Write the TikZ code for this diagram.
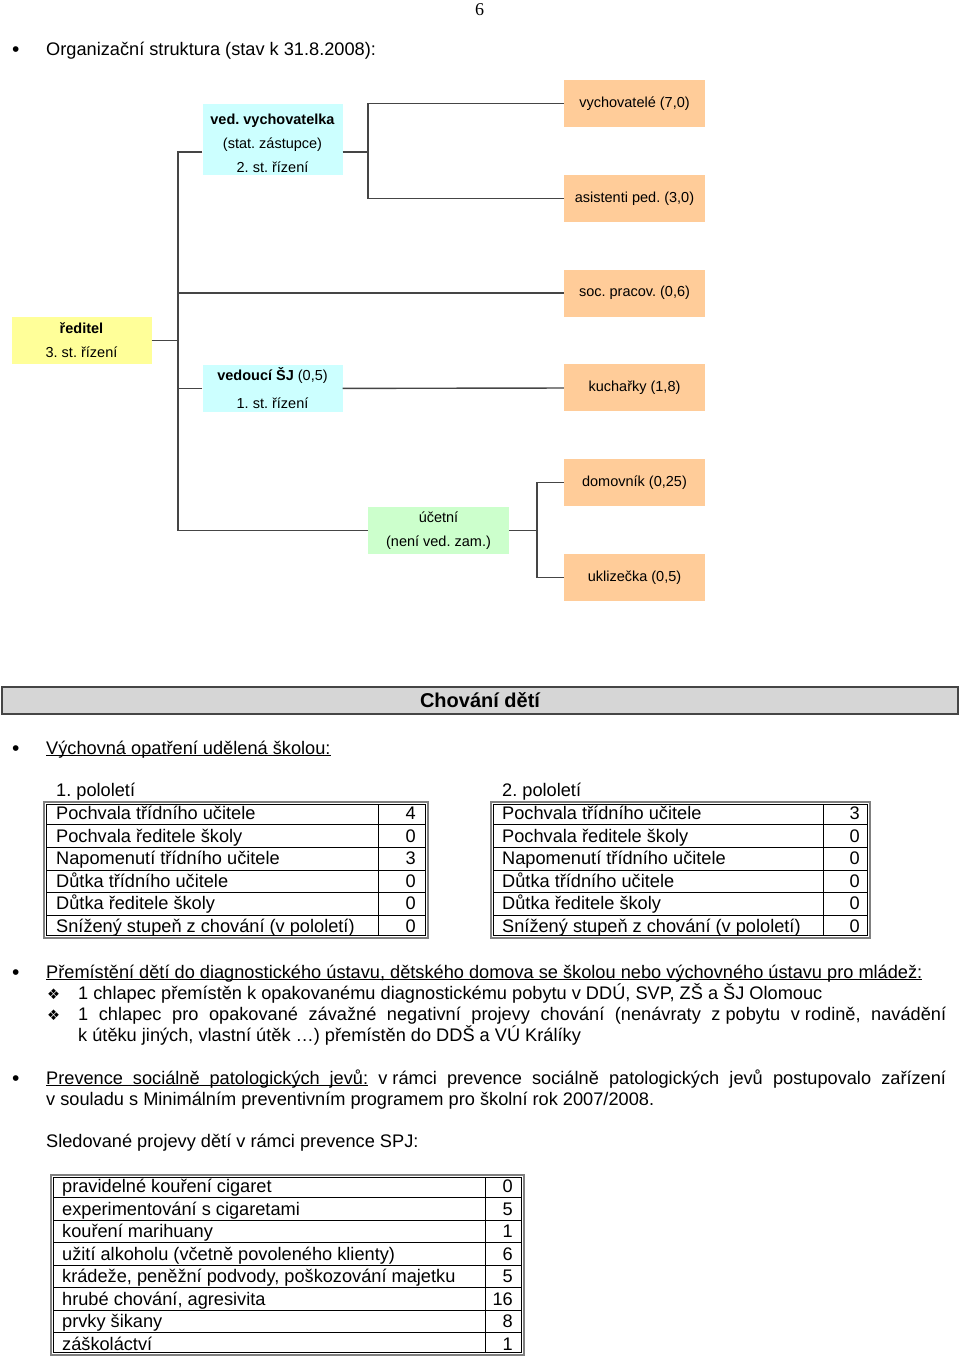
\documentclass[tikz,border=0pt]{standalone}
\usepackage{fontspec}
\setmainfont{Liberation Sans}
\newfontfamily\pagefont{Liberation Serif}
\newfontfamily\dingfont{DejaVu Sans}
\usetikzlibrary{positioning}

\definecolor{peach}{HTML}{FFCC99}
\definecolor{lemon}{HTML}{FFFF99}
\definecolor{aqua}{HTML}{CCFFFF}
\definecolor{mint}{HTML}{CCFFCC}
\definecolor{barfill}{HTML}{D6D6D6}
\definecolor{wire}{HTML}{454545}

\newcommand\undl[1]{\setbox0=\hbox{#1}\rlap{\rule[-2.2pt]{\wd0}{0.9pt}}\box0\relax}

\tikzset{
  orgbox/.style={minimum width=140pt, minimum height=47pt, inner sep=0pt, align=center, font=\fontsize{14.5}{24}\selectfont},
  staff/.style={orgbox, fill=peach, minimum width=141pt},
  boss/.style={orgbox, fill=lemon},
  lead/.style={orgbox, fill=aqua},
  clerk/.style={orgbox, fill=mint, minimum width=141pt},
  link/.style={draw=wire, line width=1.4pt},
  txt/.style={anchor=base west, inner sep=0pt, font=\fontsize{18.2}{22}\selectfont},
  num/.style={anchor=base east, inner sep=0pt, font=\fontsize{18.2}{22}\selectfont},
  blt/.style={anchor=base west, inner sep=0pt, font=\fontsize{21}{22}\selectfont},
  ding/.style={anchor=base west, inner sep=0pt, font=\dingfont\fontsize{14.5}{16}\selectfont},
  frameout/.style={draw=gray, line width=2pt},
  framein/.style={draw=black, line width=0.9pt},
}

\begin{document}
\frenchspacing
\begin{tikzpicture}[x=1pt, y=-1pt, node distance=94.8pt]

  \useasboundingbox (0,0) rectangle (960,1357);

  \node (pg) [anchor=base, inner sep=0pt, font=\pagefont\fontsize{18}{20}\selectfont] at (479.5,15) {6};

  \node (b1) [blt] at (12,56) {\textbullet};
  \node (org) [txt] at (46,55) {Organizační struktura (stav k 31.8.2008):};

  % organizacni struktura
  \node (reditel) [boss] at (81.5,340.5) {\textbf{ředitel}\\3. st. řízení};
  \node (vedvych) [lead, minimum height=71pt] at (272.5,139.5) {\rule{0pt}{18pt}\textbf{ved. vychovatelka}\\(stat. zástupce)\\2. st. řízení};
  \node (vedouci) [lead] at (272.5,388.5) {\textbf{vedoucí ŠJ} (0,5)\\[4pt]1. st. řízení};
  \node (ucetni) [clerk] at (438.5,530.5) {účetní\\(není ved. zam.)};

  \node (vychov) [staff] at (634.5,103.5) {vychovatelé (7,0)};
  \node (asist) [staff, below of=vychov] {asistenti ped. (3,0)};
  \node (socprac) [staff, below of=asist] {soc. pracov. (0,6)};
  \node (kuchar) [staff, below of=socprac] {kuchařky (1,8)};
  \node (domov) [staff, below of=kuchar] {domovník (0,25)};
  \node (uklid) [staff, below of=domov] {uklizečka (0,5)};

  \coordinate (trunk) at (178,530.5);
  \coordinate (forkA) at (368,0);
  \coordinate (forkB) at (537,0);

  \draw[link] ([yshift=-12.5pt]vedvych.west) -| (trunk) -- (ucetni);
  \draw[link] (reditel) -- (reditel -| trunk);
  \draw[link] (socprac) -- (socprac -| trunk);
  \draw[link] (vedouci) -- (vedouci -| trunk);
  \draw[link] (vedouci) -- (kuchar);
  \draw[link] ([yshift=-12.5pt]vedvych.east) -- ([yshift=-12.5pt]vedvych.east -| forkA);
  \draw[link] (vychov) -| (forkA |- asist) -- (asist);
  \draw[link] (ucetni) -- (ucetni -| forkB);
  \draw[link] (domov) -| (forkB |- uklid) -- (uklid);

  % chovani deti
  \node (bar) [draw=wire, line width=1.2pt, fill=barfill, minimum width=956pt, minimum height=27pt, inner sep=0pt, font=\fontsize{20}{24}\selectfont\bfseries] at (480,700.5) {Chování dětí};

  \node (b2) [blt] at (12,755) {\textbullet};
  \node (opatreni) [txt] at (46,754) {\undl{Výchovná opatření udělená školou:}};

  \node (pol1) [txt] at (56,796) {1. pololetí};
  \node (pol2) [txt] at (502,796) {2. pololetí};

  % 1. pololeti
  \draw[frameout] (44,802) rectangle (428,938);
  \draw[framein] (46.5,804.5) rectangle (425.5,935.5);
  \draw[framein] (378,804.5) -- (378,935.5);
  \foreach \y in {824.7,847.3,870,892.7,915.3}
    \draw[framein] (46.5,\y) -- (425.5,\y);
  \node (ra1) [txt] at (56,819) {Pochvala třídního učitele};
  \node (ra2) [txt] at (56,842) {Pochvala ředitele školy};
  \node (ra3) [txt] at (56,864) {Napomenutí třídního učitele};
  \node (ra4) [txt] at (56,887) {Důtka třídního učitele};
  \node (ra5) [txt] at (56,909) {Důtka ředitele školy};
  \node (ra6) [txt] at (56,932) {Snížený stupeň z chování (v pololetí)};
  \node (va1) [num] at (416,819) {4};
  \node (va2) [num] at (416,842) {0};
  \node (va3) [num] at (416,864) {3};
  \node (va4) [num] at (416,887) {0};
  \node (va5) [num] at (416,909) {0};
  \node (va6) [num] at (416,932) {0};

  % 2. pololeti
  \draw[frameout] (491,802) rectangle (870,938);
  \draw[framein] (493.5,804.5) rectangle (867.5,935.5);
  \draw[framein] (823,804.5) -- (823,935.5);
  \foreach \y in {824.7,847.3,870,892.7,915.3}
    \draw[framein] (493.5,\y) -- (867.5,\y);
  \node (rb1) [txt] at (502,819) {Pochvala třídního učitele};
  \node (rb2) [txt] at (502,842) {Pochvala ředitele školy};
  \node (rb3) [txt] at (502,864) {Napomenutí třídního učitele};
  \node (rb4) [txt] at (502,887) {Důtka třídního učitele};
  \node (rb5) [txt] at (502,909) {Důtka ředitele školy};
  \node (rb6) [txt] at (502,932) {Snížený stupeň z chování (v pololetí)};
  \node (vb1) [num] at (860,819) {3};
  \node (vb2) [num] at (860,842) {0};
  \node (vb3) [num] at (860,864) {0};
  \node (vb4) [num] at (860,887) {0};
  \node (vb5) [num] at (860,909) {0};
  \node (vb6) [num] at (860,932) {0};

  % premisteni
  \node (b3) [blt] at (12,979) {\textbullet};
  \node (presun) [txt] at (46,978) {\undl{Přemístění dětí do diagnostického ústavu, dětského domova se školou nebo výchovného ústavu pro mládež:}};
  \node (d1) [ding] at (47,999) {❖};
  \node (p1) [txt] at (78,999) {1 chlapec přemístěn k opakovanému diagnostickému pobytu v DDÚ, SVP, ZŠ a ŠJ Olomouc};
  \node (d2) [ding] at (47,1020) {❖};
  \node (p2) [txt] at (78,1020) {\makebox[868pt][s]{1 chlapec pro opakované závažné negativní projevy chování (nenávraty \mbox{z~pobytu} \mbox{v~rodině,} navádění}};
  \node (p3) [txt] at (78,1041) {k útěku jiných, vlastní útěk …) přemístěn do DDŠ a VÚ Králíky};

  % prevence
  \node (b4) [blt] at (12,1085) {\textbullet};
  \node (prev) [txt] at (46,1084) {\makebox[900pt][s]{\undl{\makebox[322pt][s]{Prevence sociálně patologických jevů:}} \mbox{v~rámci} prevence sociálně patologických jevů postupovalo zařízení}};
  \node (prev2) [txt] at (46,1105) {v souladu s Minimálním preventivním programem pro školní rok 2007/2008.};
  \node (sled) [txt] at (46,1147) {Sledované projevy dětí v rámci prevence SPJ:};

  % sledovane projevy
  \draw[frameout] (51,1175) rectangle (524,1355);
  \draw[framein] (53.5,1177.5) rectangle (521.5,1352.5);
  \draw[framein] (485,1177.5) -- (485,1352.5);
  \foreach \y in {1197.5,1220,1242.5,1265,1287.5,1310,1332.5}
    \draw[framein] (53.5,\y) -- (521.5,\y);
  \node (rc1) [txt] at (62,1192) {pravidelné kouření cigaret};
  \node (rc2) [txt] at (62,1215) {experimentování s cigaretami};
  \node (rc3) [txt] at (62,1237) {kouření marihuany};
  \node (rc4) [txt] at (62,1260) {užití alkoholu (včetně povoleného klienty)};
  \node (rc5) [txt] at (62,1282) {krádeže, peněžní podvody, poškozování majetku};
  \node (rc6) [txt] at (62,1305) {hrubé chování, agresivita};
  \node (rc7) [txt] at (62,1327) {prvky šikany};
  \node (rc8) [txt] at (62,1350) {záškoláctví};
  \node (vc1) [num] at (513,1192) {0};
  \node (vc2) [num] at (513,1215) {5};
  \node (vc3) [num] at (513,1237) {1};
  \node (vc4) [num] at (513,1260) {6};
  \node (vc5) [num] at (513,1282) {5};
  \node (vc6) [num] at (513,1305) {16};
  \node (vc7) [num] at (513,1327) {8};
  \node (vc8) [num] at (513,1350) {1};

\end{tikzpicture}
\end{document}
